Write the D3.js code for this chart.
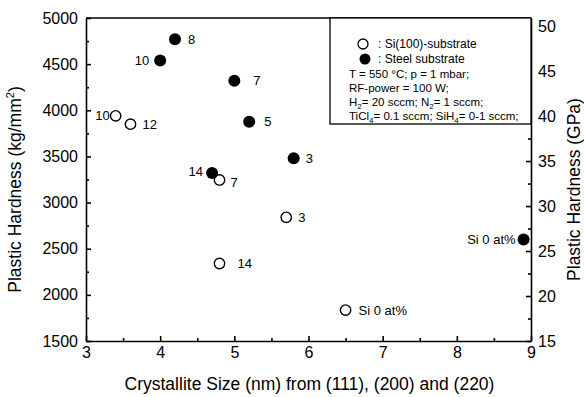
<!DOCTYPE html>
<html>
<head>
<meta charset="utf-8">
<script src="https://cdn.jsdelivr.net/npm/d3@7/dist/d3.min.js"></script>
<style>
    body { margin: 0; background: #fff; }
    svg { font-family: 'Liberation Sans', Arial, sans-serif; }
    .axis path, .axis line { stroke: #000; stroke-width: 1.6; }
    .axis text { font-size: 16px; fill: #000; }
</style>
</head>
<body>
<svg id="chart"></svg>
<script>
// Si(100) substrate (open circles)
const siSize = [3.4, 3.6, 4.8, 5.7, 4.8, 6.5];
const siHard = [3940, 3850, 3245, 2840, 2340, 1835];
const siLabel = ['10', '12', '7', '3', '14', 'Si 0 at%'];

// steel substrate (filled circles)
const steelSize = [4.2, 4.0, 5.0, 5.2, 5.8, 4.7, 8.9];
const steelHard = [4770, 4540, 4320, 3875, 3480, 3320, 2600];
const steelLabel = ['8', '10', '7', '5', '3', '14', 'Si 0 at%'];

const xTicks = [3, 4, 5, 6, 7, 8, 9];
const yTicks = [1500, 2000, 2500, 3000, 3500, 4000, 4500, 5000];
const gpaTicks = [15, 20, 25, 30, 35, 40, 45, 50];

const legendLines = [
    'T = 550 °C; p = 1 mbar;',
    'RF-power = 100 W;',
    [['H', ''], ['2', 'sub'], ['= 20 sccm; N', ''], ['2', 'sub'], ['= 1 sccm;', '']],
    [['TiCl', ''], ['4', 'sub'], ['= 0.1 sccm; SiH', ''], ['4', 'sub'], ['= 0-1 sccm;', '']]
];

// label placement: [anchor, dx, dy]
const siPlace = [['end', -6, 0], ['start', 12, 0], ['start', 11, 2], ['start', 12, 0], ['start', 18, 0], ['start', 13, 0]];
const steelPlace = [['start', 13, 0], ['end', -11, 0], ['start', 19, 0], ['start', 15, 0], ['start', 12, 0], ['end', -9, -2], ['end', -8, 0]];

const width = 584, height = 397;
const m = { left: 86, right: 53, top: 18, bottom: 56 };
const w = width - m.left - m.right;
const h = height - m.top - m.bottom;

const svg = d3.select('#chart')
        .attr('width', width)
        .attr('height', height);

const chart = svg.append('g')
        .attr('transform', `translate(${m.left}, ${m.top})`);

const x = d3.scaleLinear().domain([3, 9]).range([0, w]);
const y = d3.scaleLinear().domain([1500, 5000]).range([h, 0]);
const y2 = d3.scaleLinear().domain([15, 50.9]).range([h, 0]);

// minor ticks
chart.append('g').attr('class', 'axis')
    .attr('transform', `translate(0, ${h})`)
    .call(d3.axisBottom(x).tickValues(d3.range(3.5, 9, 1)).tickSize(-3).tickFormat(''))
    .select('.domain').remove();
chart.append('g').attr('class', 'axis')
    .call(d3.axisLeft(y).tickValues(d3.range(1750, 5000, 500)).tickSize(-3).tickFormat(''))
    .select('.domain').remove();
chart.append('g').attr('class', 'axis')
    .attr('transform', `translate(${w}, 0)`)
    .call(d3.axisRight(y2).tickValues(d3.range(17.5, 51, 5)).tickSize(-3).tickFormat(''))
    .select('.domain').remove();

// main axes
chart.append('g').attr('class', 'axis')
    .attr('transform', `translate(0, ${h})`)
    .call(d3.axisBottom(x).tickValues(xTicks).tickSize(-5).tickSizeOuter(0).tickPadding(6).tickFormat(d3.format('d')));
chart.append('g').attr('class', 'axis')
    .call(d3.axisLeft(y).tickValues(yTicks).tickSize(-5).tickSizeOuter(0).tickPadding(8).tickFormat(d3.format('d')));
chart.append('g').attr('class', 'axis')
    .attr('transform', `translate(${w}, 0)`)
    .call(d3.axisRight(y2).tickValues(gpaTicks).tickSize(-5).tickSizeOuter(0).tickPadding(7).tickFormat(d3.format('d')));

chart.append('line')
    .attr('x1', 0).attr('x2', w).attr('y1', 0).attr('y2', 0)
    .attr('stroke', '#000').attr('stroke-width', 1.6);

// axis titles
svg.append('text')
    .attr('x', m.left + w / 2 + 1)
    .attr('y', 390)
    .attr('text-anchor', 'middle')
    .style('font-size', '17.5px')
    .text('Crystallite Size (nm) from (111), (200) and (220)');

const leftTitle = svg.append('text')
    .attr('transform', `translate(21, ${m.top + h / 2 + 10}) rotate(-90)`)
    .attr('text-anchor', 'middle')
    .style('font-size', '17.5px');
leftTitle.append('tspan').text('Plastic Hardness (kg/mm');
leftTitle.append('tspan').attr('dy', -7).style('font-size', '11px').text('2');
leftTitle.append('tspan').attr('dy', 7).text(')');

svg.append('text')
    .attr('transform', `translate(580, ${m.top + h / 2 + 10}) rotate(-90)`)
    .attr('text-anchor', 'middle')
    .style('font-size', '17.5px')
    .text('Plastic Hardness (GPa)');

// legend box
const lg = chart.append('g').attr('transform', `translate(${330 - m.left}, 0)`);
lg.append('rect')
    .attr('x', 0).attr('y', 0)
    .attr('width', w - (330 - m.left)).attr('height', 106)
    .attr('fill', '#fff').attr('stroke', '#000').attr('stroke-width', 1.3);
lg.append('circle').attr('cx', 33).attr('cy', 26).attr('r', 5)
    .attr('fill', '#fff').attr('stroke', '#000').attr('stroke-width', 1.3);
lg.append('circle').attr('cx', 35).attr('cy', 41).attr('r', 5.5).attr('fill', '#000');
lg.append('text').attr('x', 48).attr('y', 30).style('font-size', '12px').text(': Si(100)-substrate');
lg.append('text').attr('x', 48).attr('y', 45).style('font-size', '12px').text(': Steel substrate');
legendLines.forEach((line, i) => {
    const t = lg.append('text')
        .attr('x', 19)
        .attr('y', 60 + i * 14)
        .style('font-size', '11.5px');
    if (typeof line === 'string') {
        t.text(line);
    } else {
        let shift = 0;
        line.forEach(([s, kind]) => {
            const target = kind === 'sub' ? 3 : 0;
            t.append('tspan')
                .attr('dy', target - shift)
                .style('font-size', kind === 'sub' ? '8px' : null)
                .text(s);
            shift = target;
        });
    }
});

// points
const siData = siSize.map((v, i) => ({ x: v, y: siHard[i], label: siLabel[i], place: siPlace[i] }));
const steelData = steelSize.map((v, i) => ({ x: v, y: steelHard[i], label: steelLabel[i], place: steelPlace[i] }));

chart.selectAll('.si')
    .data(siData)
    .enter()
    .append('circle')
        .attr('class', 'si')
        .attr('cx', d => x(d.x))
        .attr('cy', d => y(d.y))
        .attr('r', 5.2)
        .attr('fill', '#fff')
        .attr('stroke', '#000')
        .attr('stroke-width', 1.4);

chart.selectAll('.steel')
    .data(steelData)
    .enter()
    .append('circle')
        .attr('class', 'steel')
        .attr('cx', d => x(d.x))
        .attr('cy', d => y(d.y))
        .attr('r', 6)
        .attr('fill', '#000');

chart.selectAll('.plabel')
    .data(siData.concat(steelData))
    .enter()
    .append('text')
        .attr('class', 'plabel')
        .attr('x', d => x(d.x) + d.place[1])
        .attr('y', d => y(d.y) + d.place[2])
        .attr('dy', '0.35em')
        .attr('text-anchor', d => d.place[0])
        .style('font-size', '13px')
        .text(d => d.label);
</script>
</body>
</html>
